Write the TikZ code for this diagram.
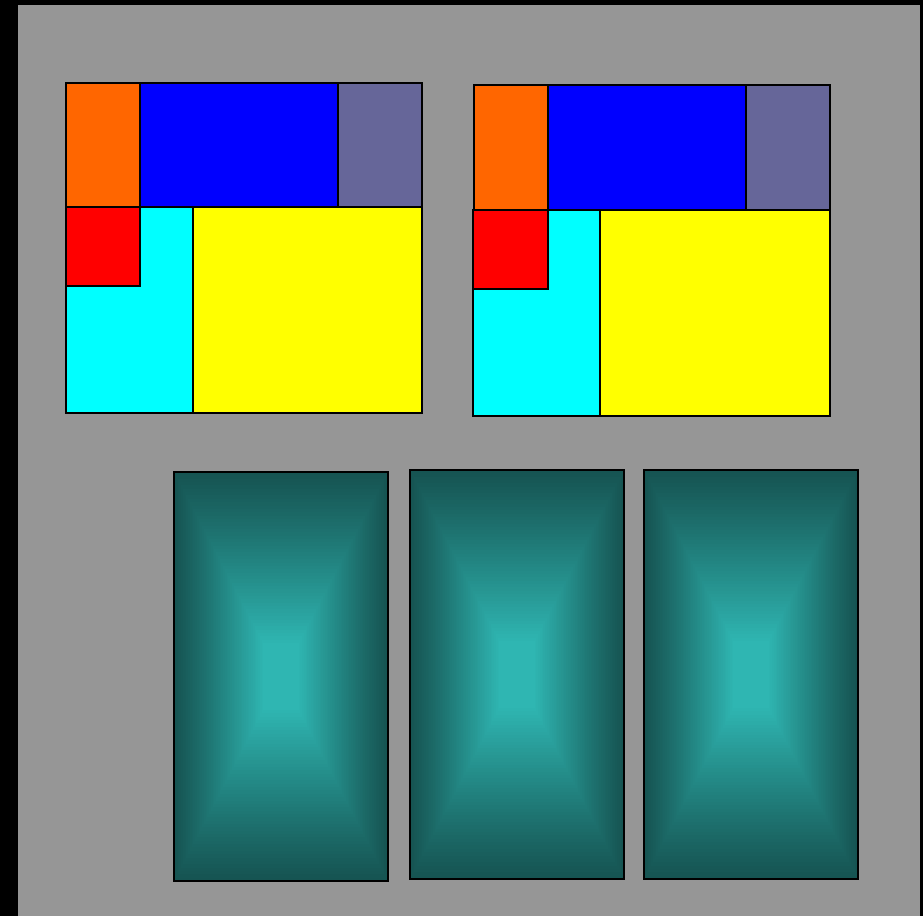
\documentclass[tikz,border=0pt]{standalone}
\usepackage{tikz}
\definecolor{bggrey}{RGB}{150,150,150}
\definecolor{myorange}{RGB}{255,102,0}
\definecolor{myblue}{RGB}{0,0,255}
\definecolor{mypurple}{RGB}{102,102,153}
\definecolor{mycyan}{RGB}{0,255,255}
\definecolor{myred}{RGB}{255,0,0}
\definecolor{myyellow}{RGB}{255,255,0}
\definecolor{tealedge}{RGB}{22,84,82}
\definecolor{tealcenter}{RGB}{47,182,178}
\tikzset{
  blk/.style={draw=black, line width=2.4pt},
}
\newcommand{\mytealbox}[4]{%
  % #1,#2 top-left ; #3,#4 bottom-right
  \pgfmathsetmacro{\cx}{(#1+#3)/2}%
  \pgfmathsetmacro{\cy}{(#2+#4)/2}%
  \pgfmathsetmacro{\hw}{(#3-#1)/2}%
  \pgfmathsetmacro{\hh}{(#4-#2)/2}%
  \foreach \i in {0,...,60}{%
    \pgfmathsetmacro{\f}{1-\i/61}%
    \pgfmathsetmacro{\t}{min(1,(\i/60)/0.85)}%
    \pgfmathsetmacro{\p}{100*(\t)^1.1}%
    \fill[tealcenter!\p!tealedge] (\cx-\hw*\f,\cy-\hh*\f) rectangle (\cx+\hw*\f,\cy+\hh*\f);
  }%
  \draw[blk] (#1,#2) rectangle (#3,#4);
}
\begin{document}
\begin{tikzpicture}[x=1pt,y=-1pt]
\useasboundingbox (0,0) rectangle (923,916);
\fill[black] (0,0) rectangle (923,916);
\fill[bggrey] (18,5) rectangle (920,916);
% left group
\draw[blk, fill=myorange] (66,83) rectangle (140,207);
\draw[blk, fill=myblue] (140,83) rectangle (338,207);
\draw[blk, fill=mypurple] (338,83) rectangle (422,207);
\draw[blk, fill=mycyan] (66,207) rectangle (193,413);
\draw[blk, fill=myyellow] (193,207) rectangle (422,413);
\draw[blk, fill=myred] (66,207) rectangle (140,286);
% right group
\draw[blk, fill=myorange] (474,85) rectangle (548,210);
\draw[blk, fill=myblue] (548,85) rectangle (746,210);
\draw[blk, fill=mypurple] (746,85) rectangle (830,210);
\draw[blk, fill=mycyan] (473,210) rectangle (600,416);
\draw[blk, fill=myyellow] (600,210) rectangle (830,416);
\draw[blk, fill=myred] (473,210) rectangle (548,289);
% teal boxes
\mytealbox{174}{472}{388}{881}
\mytealbox{410}{470}{624}{879}
\mytealbox{644}{470}{858}{879}
\end{tikzpicture}
\end{document}
